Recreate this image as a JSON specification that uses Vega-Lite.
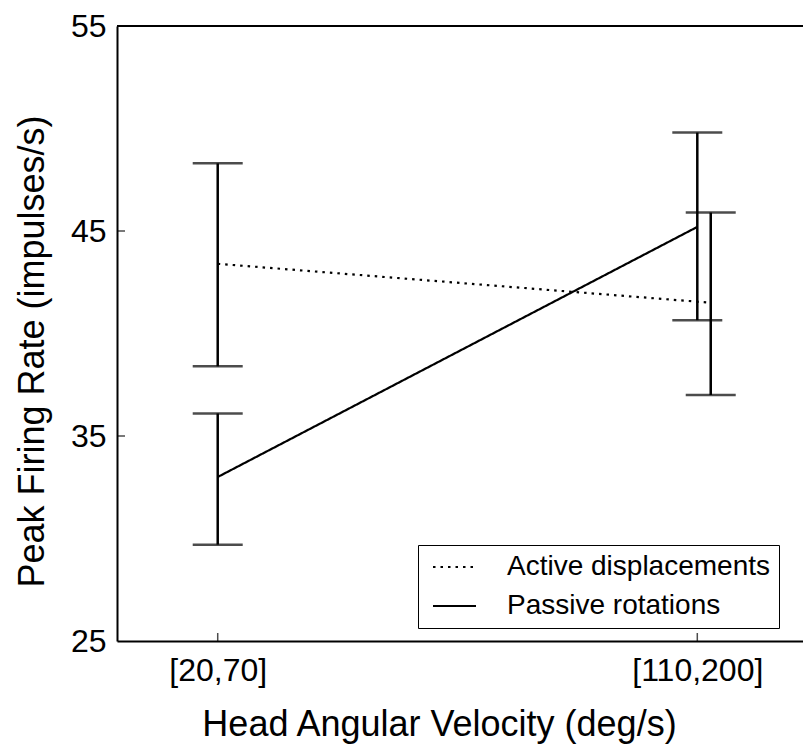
{
  "$schema": "https://vega.github.io/schema/vega-lite/v6.json",
  "autosize": "none",
  "width": 686,
  "height": 615,
  "padding": {"left": 117, "top": 26, "right": 0, "bottom": 108},
  "background": "white",
  "config": {
    "view": {"stroke": null},
    "font": "Liberation Sans",
    "axis": {
      "grid": false,
      "ticks": false,
      "domainColor": "black",
      "domainWidth": 2,
      "labelColor": "black",
      "labelFont": "Liberation Sans",
      "labelFontSize": 32,
      "labelFlush": false,
      "titleColor": "black",
      "titleFont": "Liberation Sans",
      "titleFontSize": 36,
      "titleFontWeight": "normal"
    }
  },
  "datasets": {
    "stats": [
      {"group": "Active displacements", "velocity": "[20,70]", "pos": 1, "mean": 43.4, "lo": 38.4, "hi": 48.3},
      {"group": "Active displacements", "velocity": "[110,200]", "pos": 2.028, "mean": 41.5, "lo": 37.0, "hi": 45.9},
      {"group": "Passive rotations", "velocity": "[20,70]", "pos": 1, "mean": 33.0, "lo": 29.7, "hi": 36.1},
      {"group": "Passive rotations", "velocity": "[110,200]", "pos": 2, "mean": 45.2, "lo": 40.65, "hi": 49.8}
    ],
    "frame": [{"top": 55}],
    "yticks": [{"v": 35}, {"v": 45}],
    "xticks": [{"v": 1}, {"v": 2}]
  },
  "layer": [
    {
      "data": {"name": "stats"},
      "mark": {"type": "line", "color": "black", "strokeWidth": 2.2, "strokeCap": "butt"},
      "encoding": {
        "x": {
          "field": "pos",
          "type": "quantitative",
          "scale": {"domain": [0.79, 2.2204], "nice": false, "zero": false},
          "axis": {
            "values": [1, 2],
            "labelExpr": "datum.value == 1 ? '[20,70]' : '[110,200]'",
            "labelPadding": 14,
            "title": "Head Angular Velocity (deg/s)",
            "titleX": 322,
            "titleY": 94,
            "titleAlign": "center",
            "titleBaseline": "alphabetic"
          }
        },
        "y": {
          "field": "mean",
          "type": "quantitative",
          "scale": {"domain": [25, 55], "nice": false, "zero": false},
          "axis": {
            "values": [25, 35, 45, 55],
            "labelPadding": 11,
            "title": "Peak Firing Rate (impulses/s)",
            "titleAngle": -90,
            "titleX": -74,
            "titleY": 325,
            "titleAlign": "center",
            "titleBaseline": "alphabetic"
          }
        },
        "strokeDash": {
          "field": "group",
          "type": "nominal",
          "scale": {"domain": ["Active displacements", "Passive rotations"], "range": [[2.5, 5], [1, 0]]},
          "legend": {
            "title": null,
            "orient": "none",
            "legendX": 301,
            "legendY": 519,
            "fillColor": "white",
            "strokeColor": "black",
            "padding": 8,
            "clipHeight": 28,
            "symbolType": "stroke",
            "symbolSize": 1849,
            "symbolOffset": 6,
            "symbolStrokeWidth": 2,
            "symbolStrokeColor": "black",
            "labelFontSize": 28,
            "labelColor": "black",
            "labelFont": "Liberation Sans",
            "labelOffset": 30,
            "labelLimit": 500,
            "rowPadding": 11
          }
        },
        "detail": {"field": "group"}
      }
    },
    {
      "data": {"name": "stats"},
      "mark": {"type": "rule", "color": "black", "strokeWidth": 2.5},
      "encoding": {
        "x": {"field": "pos", "type": "quantitative"},
        "y": {"field": "lo", "type": "quantitative"},
        "y2": {"field": "hi"}
      }
    },
    {
      "data": {"name": "stats"},
      "mark": {"type": "tick", "color": "black", "orient": "horizontal", "size": 50, "thickness": 2.5},
      "encoding": {
        "x": {"field": "pos", "type": "quantitative"},
        "y": {"field": "lo", "type": "quantitative"}
      }
    },
    {
      "data": {"name": "stats"},
      "mark": {"type": "tick", "color": "black", "orient": "horizontal", "size": 50, "thickness": 2.5},
      "encoding": {
        "x": {"field": "pos", "type": "quantitative"},
        "y": {"field": "hi", "type": "quantitative"}
      }
    },
    {
      "data": {"name": "frame"},
      "mark": {"type": "rule", "color": "black", "strokeWidth": 2},
      "encoding": {"y": {"field": "top", "type": "quantitative"}}
    },
    {
      "data": {"name": "yticks"},
      "mark": {"type": "tick", "color": "black", "orient": "horizontal", "size": 8, "thickness": 1.5, "xOffset": 4},
      "encoding": {
        "x": {"datum": 0.79, "type": "quantitative"},
        "y": {"field": "v", "type": "quantitative"}
      }
    },
    {
      "data": {"name": "xticks"},
      "mark": {"type": "tick", "color": "black", "orient": "vertical", "size": 8, "thickness": 1.5, "yOffset": -4},
      "encoding": {
        "x": {"field": "v", "type": "quantitative"},
        "y": {"datum": 25, "type": "quantitative"}
      }
    }
  ]
}
